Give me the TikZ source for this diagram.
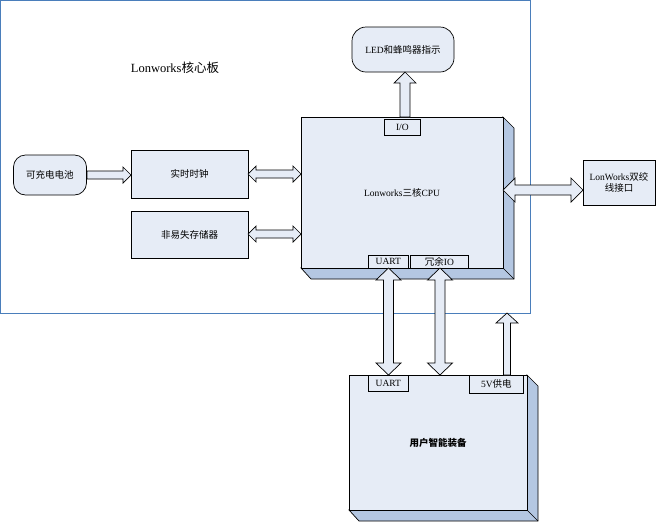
\documentclass[tikz,border=0pt]{standalone}
\usepackage{fontspec}
\setmainfont{Liberation Serif}
\newfontfamily\cjk{Noto Sans CJK SC}
\definecolor{face}{HTML}{E6ECF6}
\definecolor{side}{HTML}{B4C7E2}
\definecolor{frameblue}{HTML}{4A7EBB}
% horizontal double arrow: x1 x2 y shafthalf headhalf headlen
\newcommand{\myHD}[6]{\draw[fatarr] (#1,#3) -- ({#1+#6},{#3-#5}) -- ({#1+#6},{#3-#4}) -- ({#2-#6},{#3-#4}) -- ({#2-#6},{#3-#5}) -- (#2,#3) -- ({#2-#6},{#3+#5}) -- ({#2-#6},{#3+#4}) -- ({#1+#6},{#3+#4}) -- ({#1+#6},{#3+#5}) -- cycle;}
% horizontal single arrow pointing to x2
\newcommand{\myHS}[6]{\draw[fatarr] (#1,{#3-#4}) -- ({#2-#6},{#3-#4}) -- ({#2-#6},{#3-#5}) -- (#2,#3) -- ({#2-#6},{#3+#5}) -- ({#2-#6},{#3+#4}) -- (#1,{#3+#4}) -- cycle;}
% vertical double arrow: y1 y2 x ...
\newcommand{\myVD}[6]{\draw[fatarr] (#3,#1) -- ({#3-#5},{#1+#6}) -- ({#3-#4},{#1+#6}) -- ({#3-#4},{#2-#6}) -- ({#3-#5},{#2-#6}) -- (#3,#2) -- ({#3+#5},{#2-#6}) -- ({#3+#4},{#2-#6}) -- ({#3+#4},{#1+#6}) -- ({#3+#5},{#1+#6}) -- cycle;}
% vertical single arrow pointing up to y1 from y2
\newcommand{\myVU}[6]{\draw[fatarr] (#3,#1) -- ({#3-#5},{#1+#6}) -- ({#3-#4},{#1+#6}) -- ({#3-#4},#2) -- ({#3+#4},#2) -- ({#3+#4},{#1+#6}) -- ({#3+#5},{#1+#6}) -- cycle;}
\begin{document}
\begin{tikzpicture}[x=1pt,y=-1pt,
  box/.style={draw,fill=face,line width=0.7pt,font=\fontsize{9.5}{11}\selectfont,inner sep=0},
  lbl/.style={draw,fill=face,line width=0.7pt,font=\fontsize{9.5}{10}\selectfont,inner sep=0,anchor=north west},
  fatarr/.style={draw,fill=face,line width=0.7pt,line join=miter}]
\useasboundingbox (0,0) rectangle (670,523);
\draw[frameblue,line width=0.7pt] (0.5,0.5) rectangle (530,313);
\node[font=\fontsize{12.5}{14}\selectfont] (title) at (175,68) {Lonworks{\cjk 核心板}};
% CPU 3D box
\fill[side,draw=black,line width=0.7pt] (301,268) -- (311,279) -- (514,279) -- (514,128) -- (503,117) -- (503,268) -- cycle;
\draw[line width=0.7pt] (503,268) -- (514,279);
\node[box,minimum width=202,minimum height=151] (cpu) at (402,192.5) {Lonworks{\cjk 三核}CPU};
% user box
\fill[side,draw=black,line width=0.7pt] (349,510) -- (359,521) -- (538,521) -- (538,386) -- (527,375) -- (527,510) -- cycle;
\draw[line width=0.7pt] (527,510) -- (538,521);
\node[box,minimum width=178,minimum height=135] (user) at (438,442.5) {\bfseries\cjk 用户智能装备};
% other boxes
\node[box,rounded corners=12,minimum width=73,minimum height=40] (bat) at (50,175) {\cjk 可充电电池};
\node[box,minimum width=117,minimum height=48] (clk) at (189.5,174) {\cjk 实时时钟};
\node[box,minimum width=117,minimum height=47] (mem) at (189.5,234.5) {\cjk 非易失存储器};
\node[box,rounded corners=14,minimum width=102,minimum height=45] (led) at (403,49.5) {LED{\cjk 和蜂鸣器指示}};
\node[box,minimum width=72,minimum height=45,align=center] (lw) at (619,182.5) {LonWorks{\cjk 双绞}\\{\cjk 线接口}};
% labels
\node[lbl,minimum width=36,minimum height=16] (io) at (384,119) {I/O};
\node[lbl,minimum width=40,minimum height=13] (uart1) at (368,255) {UART};
\node[lbl,minimum width=58,minimum height=13] (rio) at (410,255) {{\cjk 冗余}IO};
\node[lbl,minimum width=40,minimum height=16] (uart2) at (368,375) {UART};
\node[lbl,minimum width=54,minimum height=18] (pwr) at (469,375) {5V{\cjk 供电}};
% arrows
\myHS{87}{131}{175}{4}{8}{8}
\myHD{248}{301}{174}{4}{8}{8}
\myHD{248}{301}{234}{4}{8}{8}
\myVU{72}{117}{405}{5}{11}{11}
\myHD{503}{583}{190}{5}{12}{12}
\myVD{268}{375}{388.5}{5}{12.5}{12}
\myVD{268}{375}{440}{5}{12.5}{12}
\myVU{313}{375}{507}{3.5}{11}{10}
\end{tikzpicture}
\end{document}
